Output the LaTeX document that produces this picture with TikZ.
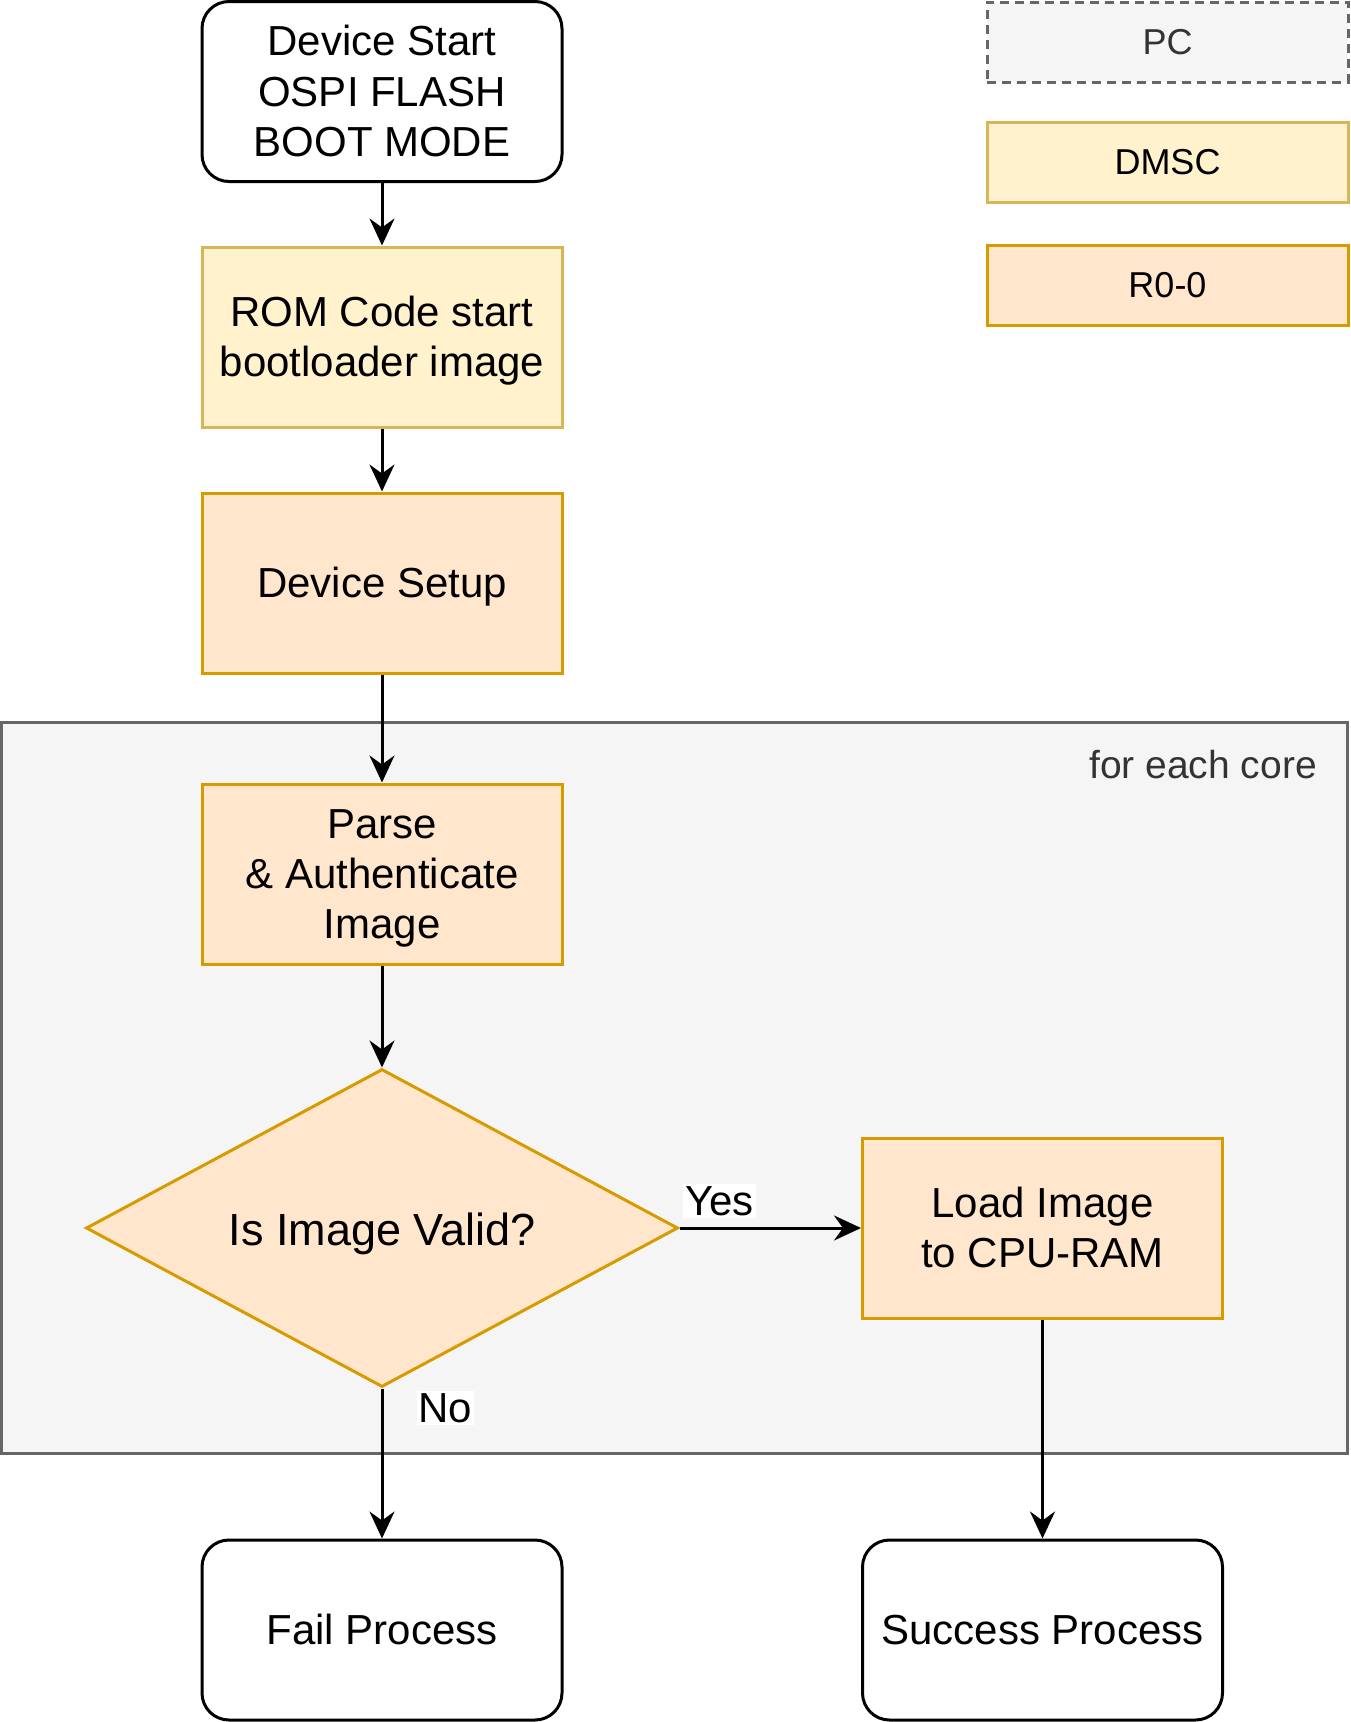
\documentclass[tikz,border=0pt]{standalone}
\usepackage{fontspec}
\setmainfont{Liberation Sans}
\usetikzlibrary{arrows.meta,shapes.geometric}
\definecolor{dmscfill}{HTML}{FFF2CC}
\definecolor{dmscline}{HTML}{D6B656}
\definecolor{rfill}{HTML}{FFE6CC}
\definecolor{rline}{HTML}{D79B00}
\definecolor{pcfill}{HTML}{F5F5F5}
\definecolor{pcline}{HTML}{666666}
\definecolor{pctext}{HTML}{333333}
\newcommand\ls{\rule[-10.65pt]{0pt}{50.4pt}}
\newcommand\lsbig{\rule[-10pt]{0pt}{54pt}}
\begin{document}
\begin{tikzpicture}[x=1pt,y=-1pt,>={Stealth[length=27pt,width=25pt,inset=9pt]},
  box/.style={draw,line width=3pt,minimum width=360pt,minimum height=180pt,align=center,inner sep=0pt,font=\fontsize{42}{50.4}\selectfont},
  term/.style={box,rounded corners=27pt,fill=white},
  dmsc/.style={box,fill=dmscfill,draw=dmscline},
  rcore/.style={box,fill=rfill,draw=rline},
  key/.style={draw,line width=3pt,minimum width=361pt,minimum height=80pt,inner sep=0pt,font=\fontsize{36}{43}\selectfont},
  lbl/.style={fill=white,inner sep=2pt,font=\fontsize{42}{50.4}\selectfont},
  flow/.style={->,line width=3pt}]
\useasboundingbox (0,0) rectangle (1350,1722);

% loop over the cores
\node[draw=pcline,fill=pcfill,line width=3pt,minimum width=1346pt,minimum height=731pt,inner sep=0pt] (core) at (674.5,1087.5) {};
\node[anchor=base east,inner sep=0pt,text=pctext,font=\fontsize{39}{46}\selectfont] (coretxt) at (1317,778) {for each core};

% legend
\node[key,dashed,dash pattern=on 9pt off 6pt,draw=pcline,fill=pcfill,text=pctext] (kpc) at (1167.5,42) {PC};
\node[key,draw=dmscline,fill=dmscfill] (kdmsc) at (1167.5,162) {DMSC};
\node[key,draw=rline,fill=rfill] (kr) at (1167.5,285) {R0-0};

% flow
\node[term] (start) at (382,91.5) {\ls Device Start\\OSPI FLASH\\BOOT MODE\ls};
\node[dmsc] (rom) at (382,337) {\ls ROM Code start\\bootloader image\ls};
\node[rcore] (setup) at (382,583) {\ls Device Setup\ls};
\node[rcore] (parse) at (382,874) {\ls Parse\\\& Authenticate\\Image\ls};
\node[rcore,diamond,shape aspect=1.86,minimum width=592pt,minimum height=318pt,font=\fontsize{45}{54}\selectfont] (valid) at (382,1228) {\lsbig Is Image Valid?\lsbig};
\node[rcore] (load) at (1042.5,1228) {\ls Load Image\\to CPU-RAM\ls};
\node[term] (fail) at (382,1630) {\ls Fail Process\ls};
\node[term] (done) at (1042.5,1630) {\ls Success Process\ls};

\draw[flow] (start)--(rom);
\draw[flow] (rom)--(setup);
\draw[flow] (setup)--(parse);
\draw[flow] (parse)--(valid);
\draw[flow] (valid)--node[lbl,pos=0.22,above=9pt]{Yes}(load);
\draw[flow] (valid)--node[lbl,pos=0.13,right=33pt]{No}(fail);
\draw[flow] (load)--(done);

\end{tikzpicture}
\end{document}
